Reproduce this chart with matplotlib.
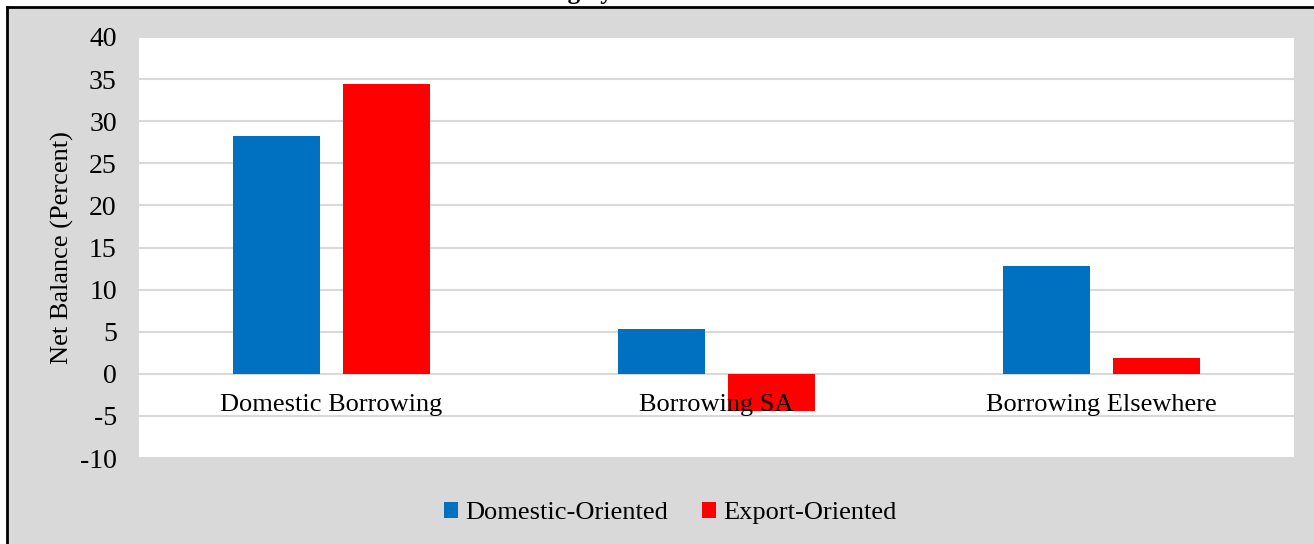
import matplotlib
matplotlib.use("Agg")
import matplotlib.pyplot as plt
from matplotlib.patches import Rectangle
import numpy as np

categories = ["Domestic Borrowing", "Borrowing SA", "Borrowing Elsewhere"]
series_names = ["Domestic-Oriented", "Export-Oriented"]
domestic_oriented = [28.3, 5.3, 12.8]
export_oriented = [34.4, -4.4, 1.9]
y_ticks = [40, 35, 30, 25, 20, 15, 10, 5, 0, -5, -10]
title_text = "Chart 5.1: Net Balances for the Sources of Borrowing by Firms"

colors = ["#0070C0", "#FF0000"]
bg = "#D9D9D9"
W, H = 1314, 544

plt.rcParams['font.family'] = ['Liberation Serif', 'DejaVu Serif']

fig = plt.figure(figsize=(W / 100, H / 100), dpi=100)
fig.patch.set_facecolor("white")

# chart area frame (gray with black border)
fig.patches.append(Rectangle((8 / W, 0), 1.0, 1 - 8 / H, transform=fig.transFigure,
                             facecolor=bg, edgecolor="none", zorder=-5))
fig.lines.append(plt.Line2D([7 / W, 7 / W], [0, 1 - 7 / H], transform=fig.transFigure,
                            color="black", lw=2, zorder=-4))
fig.lines.append(plt.Line2D([7 / W, 1], [1 - 7 / H, 1 - 7 / H], transform=fig.transFigure,
                            color="black", lw=2, zorder=-4))

# cut-off title above the chart
fig.text(12 / W, 1 + 1 / H, title_text, fontsize=18, fontweight="bold",
         ha="left", va="baseline", color="black")

left, right, top, bottom = 139, 1294, 37, 458
ax = fig.add_axes([left / W, 1 - bottom / H, (right - left) / W, (bottom - top) / H])
ax.set_facecolor("white")

x = np.arange(len(categories))
bw = 0.226
off = 0.143
ax.bar(x - off, domestic_oriented, bw, color=colors[0], label=series_names[0], zorder=3)
ax.bar(x + off, export_oriented, bw, color=colors[1], label=series_names[1], zorder=3)

ax.set_xlim(-0.5, len(categories) - 0.5)
ax.set_ylim(-10, 40)
ax.set_yticks(y_ticks)
ax.set_yticklabels([str(t) for t in y_ticks], fontsize=20)
ax.tick_params(axis="y", length=0, pad=16)
ax.set_xticks([])
for s in ax.spines.values():
    s.set_visible(False)
ax.yaxis.grid(True, color="#D9D9D9", lw=1.5, zorder=1)
ax.set_axisbelow(True)

for i, c in enumerate(categories):
    ax.annotate(c, xy=(i, 0), xytext=(0, -31), textcoords="offset pixels",
                ha="center", va="center", fontsize=19, zorder=5)

ax.set_ylabel("Net Balance (Percent)", fontsize=19, labelpad=4)

leg = fig.legend(loc="center", bbox_to_anchor=(670 / W, 1 - 513 / H), ncol=2,
                 frameon=False, fontsize=19, handlelength=0.55, handleheight=0.55,
                 handletextpad=0.25, columnspacing=1.3)

fig.savefig("out.png", dpi=100, facecolor=fig.get_facecolor())
